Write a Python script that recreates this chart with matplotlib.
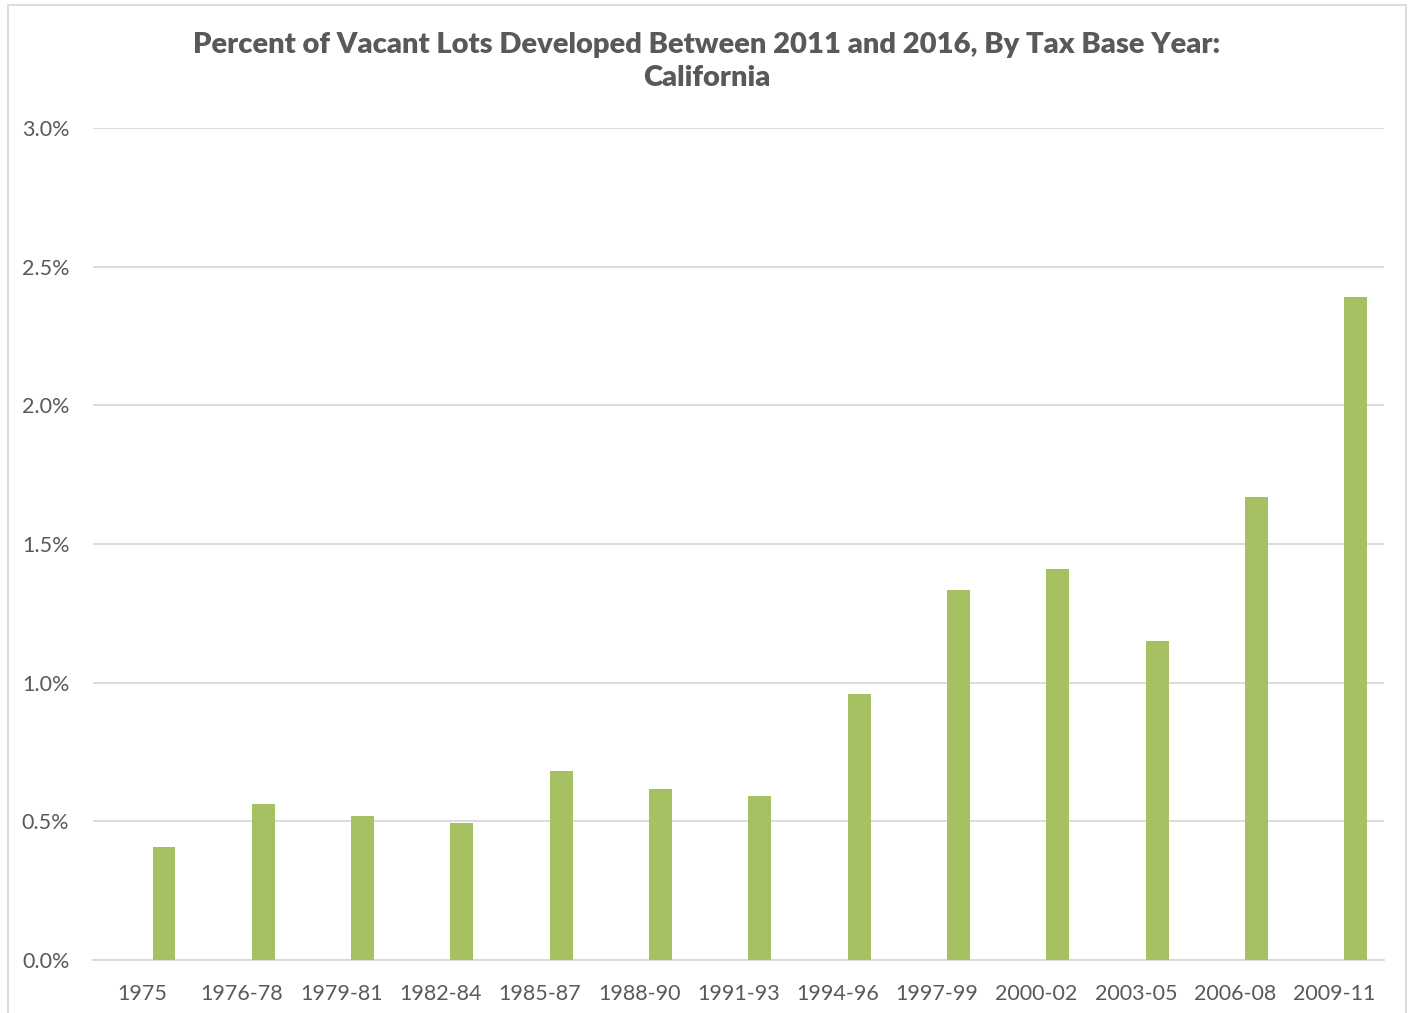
import matplotlib
matplotlib.use("Agg")
import matplotlib.pyplot as plt
from matplotlib.patches import Rectangle
from matplotlib.ticker import FuncFormatter, MultipleLocator

plt.rcParams['font.family'] = ['Lato', 'DejaVu Sans']

# data (percent)
tax_years = ['1975', '1976-78', '1979-81', '1982-84', '1985-87', '1988-90', '1991-93',
             '1994-96', '1997-99', '2000-02', '2003-05', '2006-08', '2009-11']
pct_developed = [0.408, 0.563, 0.519, 0.494, 0.682, 0.617, 0.591,
                 0.959, 1.334, 1.410, 1.150, 1.670, 2.391]

bar_color = '#A5C162'
text_color = '#595959'
grid_color = '#D9D9D9'

fig = plt.figure(figsize=(14.13, 10.13), dpi=100)
ax = fig.add_axes([0.0658, 0.0523, 0.9137, 0.8213])

x = list(range(len(tax_years)))
# bars sit right of the category centre (as in an Excel clustered chart)
ax.bar([i + 0.215 for i in x], pct_developed, width=0.23, color=bar_color, zorder=3)

ax.set_xlim(-0.5, len(tax_years) - 0.5)
ax.set_ylim(0, 3.0)
ax.yaxis.set_major_locator(MultipleLocator(0.5))
ax.yaxis.set_major_formatter(FuncFormatter(lambda v, p: f'{v:.1f}%'))
ax.set_xticks(x)
ax.set_xticklabels(tax_years)

ax.grid(axis='y', color=grid_color, linewidth=1.3, zorder=0)
for s in ['top', 'right', 'left']:
    ax.spines[s].set_visible(False)
ax.spines['bottom'].set_color(grid_color)
ax.spines['bottom'].set_linewidth(1.3)
ax.tick_params(axis='both', length=0, labelsize=15.5, colors=text_color)
ax.tick_params(axis='x', pad=17.5)
ax.tick_params(axis='y', pad=17)

fig.text(0.5, 0.939, 'Percent of Vacant Lots Developed Between 2011 and 2016, By Tax Base Year:\nCalifornia',
         ha='center', va='center', fontsize=21, fontweight='heavy', color=text_color, linespacing=1.34)

# light frame around the chart area
fig.patches.append(Rectangle((8 / 1413, -0.01), 1398 / 1413, 1.005, transform=fig.transFigure,
                             fill=False, edgecolor=grid_color, linewidth=1.3))

fig.savefig('out.png', dpi=100, facecolor='white')
